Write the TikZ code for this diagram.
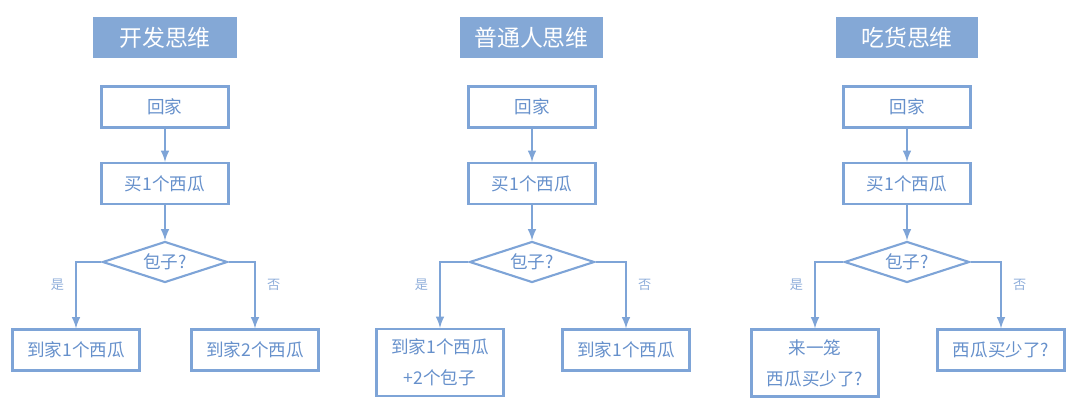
\documentclass[tikz,border=0pt]{standalone}
\usepackage{xcolor}
\usepackage{fontspec}
\newfontfamily\cjk{Noto Sans CJK SC}
\usepackage{tikz}
\usetikzlibrary{arrows,shapes,positioning}
\definecolor{flowline}{HTML}{7EA4D7}
\definecolor{flowtext}{HTML}{6690CB}
\definecolor{headfill}{HTML}{84A8D6}
\definecolor{branchtext}{HTML}{8FAEDA}
\tikzset{
  headbox/.style={rectangle, fill=headfill, text=white, minimum width=2.88cm, minimum height=0.82cm, inner sep=0pt, font=\cjk\fontsize{13}{15}\selectfont},
  flowbox/.style={draw=flowline, line width=1.2pt, rectangle, text=flowtext, minimum width=2.54cm, minimum height=0.82cm, inner sep=0pt, font=\cjk\fontsize{10}{12}\selectfont},
  tallbox/.style={flowbox, minimum height=1.34cm, align=center},
  choice/.style={draw=flowline, line width=1.2pt, diamond, aspect=3, text=flowtext, minimum width=2.5cm, minimum height=0.82cm, inner sep=0pt, font=\cjk\fontsize{10}{12}\selectfont},
  flowarrow/.style={draw=flowline, line width=1.2pt, -latex},
  branch/.style={text=branchtext, inner sep=0pt, font=\cjk\fontsize{7.5}{8}\selectfont}
}
\begin{document}
\begin{tikzpicture}[x=0.02cm, y=-0.02cm]
        \useasboundingbox (0,0) rectangle (1080,416);

        % developer
        \node[headbox] (devhead) at (165,37.5) {开发思维};
        \node[flowbox] (devhome) at (165,107) {回家};
        \node[flowbox] (devbuy) at (165,183.5) {买1个西瓜};
        \node[choice] (devask) at (165,262) {包子?};
        \node[flowbox] (devyes) at (76,350) {到家1个西瓜};
        \node[flowbox] (devno) at (255,350) {到家2个西瓜};

        \draw[flowarrow] (devhome) -- (devbuy);
        \draw[flowarrow] (devbuy) -- (devask);
        \draw[flowarrow] (devask.west) -| node[branch, pos=0.67, left=0.22cm] {是} (devyes.north);
        \draw[flowarrow] (devask.east) -| node[branch, pos=0.67, right=0.22cm] {否} (devno.north);

        % ordinary person
        \node[headbox] (manhead) at (531.5,37.5) {普通人思维};
        \node[flowbox] (manhome) at (532,107) {回家};
        \node[flowbox] (manbuy) at (532,183.5) {买1个西瓜};
        \node[choice] (manask) at (532,262) {包子?};
        \node[tallbox] (manyes) at (440,362.5) {到家1个西瓜\\[0.2cm]+2个包子};
        \node[flowbox] (manno) at (626,350) {到家1个西瓜};

        \draw[flowarrow] (manhome) -- (manbuy);
        \draw[flowarrow] (manbuy) -- (manask);
        \draw[flowarrow] (manask.west) -| node[branch, pos=0.67, left=0.22cm] {是} (manyes.north);
        \draw[flowarrow] (manask.east) -| node[branch, pos=0.67, right=0.22cm] {否} (manno.north);

        % foodie
        \node[headbox, minimum width=2.84cm] (foodhead) at (907,37.5) {吃货思维};
        \node[flowbox] (foodhome) at (907,107) {回家};
        \node[flowbox] (foodbuy) at (907,183.5) {买1个西瓜};
        \node[choice] (foodask) at (907,262) {包子?};
        \node[tallbox] (foodyes) at (815,363) {来一笼\\[0.2cm]西瓜买少了?};
        \node[flowbox] (foodno) at (1001,350) {西瓜买少了?};

        \draw[flowarrow] (foodhome) -- (foodbuy);
        \draw[flowarrow] (foodbuy) -- (foodask);
        \draw[flowarrow] (foodask.west) -| node[branch, pos=0.67, left=0.22cm] {是} (foodyes.north);
        \draw[flowarrow] (foodask.east) -| node[branch, pos=0.67, right=0.22cm] {否} (foodno.north);
    \end{tikzpicture}
\end{document}
